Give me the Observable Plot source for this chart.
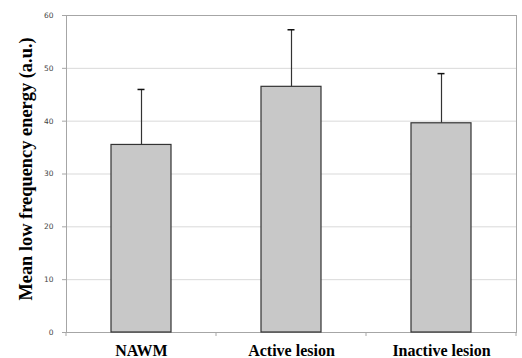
<!DOCTYPE html>
<html>
<head>
<meta charset="utf-8">
<script src="https://cdn.jsdelivr.net/npm/d3@7"></script>
<script src="https://cdn.jsdelivr.net/npm/@observablehq/plot@0.6"></script>
<style>
  html, body { margin: 0; padding: 0; background: #fff; }
</style>
</head>
<body>
<div id="chart"></div>
<script>
const categories = ["NAWM", "Active lesion", "Inactive lesion"];
const means = [35.5, 46.5, 39.6];
const errors = [10.5, 10.8, 9.4];
const yTicks = [0, 10, 20, 30, 40, 50, 60];
const yTitle = "Mean low frequency energy (a.u.)";

const data = categories.map((c, i) => ({cat: c, mean: means[i], top: means[i] + errors[i]}));
const serif = "'Liberation Serif', 'Times New Roman', serif";

const chart = Plot.plot({
  width: 522,
  height: 358,
  marginLeft: 66,
  marginRight: 6,
  marginTop: 15,
  marginBottom: 26,
  style: {background: "#fff", overflow: "visible"},
  x: {domain: categories, paddingInner: 0.6, paddingOuter: 0.3},
  y: {domain: [0, 60]},
  marks: [
    Plot.gridY(yTicks, {stroke: "#d9d9d9", strokeOpacity: 1}),
    Plot.frame({stroke: "#a6a6a6"}),
    Plot.axisY(yTicks, {tickSize: 4, tickPadding: 9, stroke: "#a6a6a6", fontSize: 7.5, fill: "#444", fontFamily: "'DejaVu Sans', sans-serif", label: null}),
    Plot.axisX({tickSize: 0, tickPadding: 12, fontSize: 16, fontWeight: "bold", fontFamily: serif, fill: "#000", label: null}),
    Plot.ruleX(data, {x: "cat", y1: "mean", y2: "top", stroke: "#333", strokeWidth: 1.2}),
    Plot.tickY(data, {x: "cat", y: "top", stroke: "#111", strokeWidth: 1.5, insetLeft: 26.5, insetRight: 26.5}),
    Plot.barY(data, {x: "cat", y: "mean", fill: "#c8c8c8", stroke: "#333", strokeWidth: 1.2}),
    Plot.text([yTitle], {frameAnchor: "left", dx: -40, dy: -5, rotate: -90, textAnchor: "middle", fontSize: 18.4, fontWeight: "bold", fontFamily: serif, fill: "#000"})
  ]
});

// category separator ticks below the bottom axis, placed via the plot's x scale
const xs = chart.scale("x");
const ys = chart.scale("y");
const y0 = ys.apply(0);
const edges = categories.map(c => xs.apply(c) - (xs.step - xs.bandwidth) / 2);
edges.push(xs.apply(categories[categories.length - 1]) + xs.bandwidth + (xs.step - xs.bandwidth) / 2);
d3.select(chart).append("g")
  .attr("stroke", "#a6a6a6")
  .selectAll("line")
  .data(edges)
  .join("line")
  .attr("x1", d => d).attr("x2", d => d)
  .attr("y1", y0).attr("y2", y0 + 4);

document.getElementById("chart").appendChild(chart);
</script>
</body>
</html>
